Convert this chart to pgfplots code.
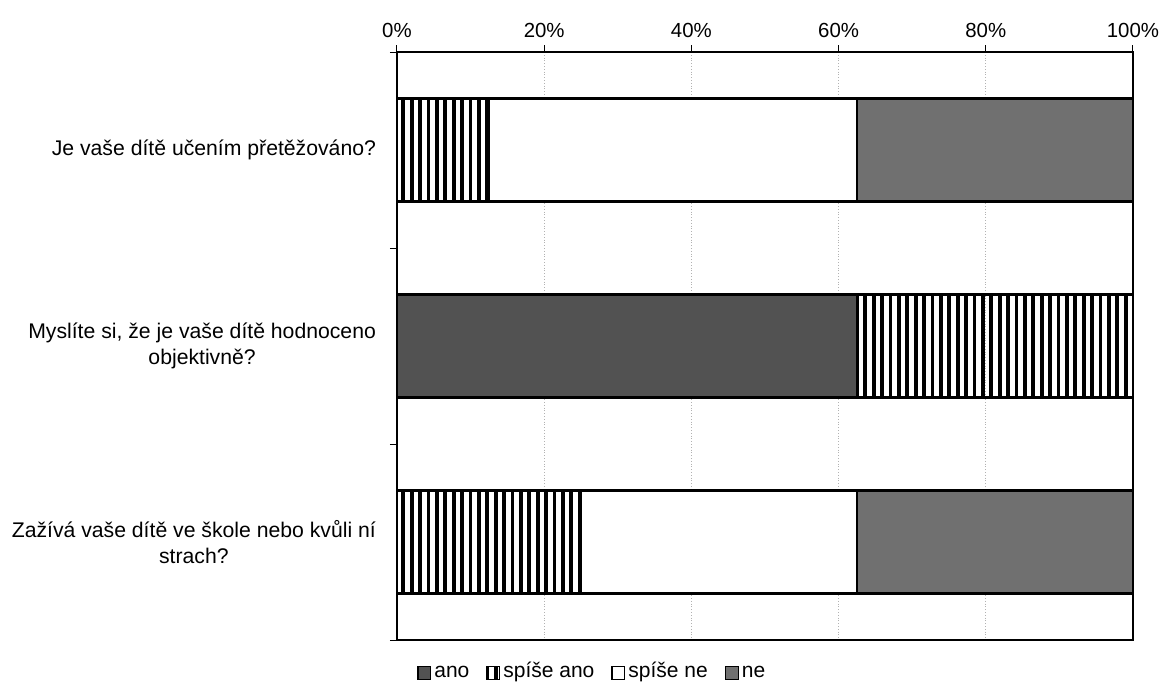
\documentclass[border=0pt]{standalone}
\usepackage{fontspec}
\setmainfont{Liberation Sans}
\usepackage{pgfplots}
\pgfplotsset{compat=1.18}
\usetikzlibrary{patterns.meta}
\definecolor{anoc}{HTML}{525252}
\definecolor{nec}{HTML}{707070}
\begin{document}
\begin{tikzpicture}
\useasboundingbox (-198.5pt,-22.5pt) rectangle (383.5pt,320pt);
\begin{axis}[
  at={(0pt,0pt)}, anchor=south west,
  scale only axis, width=368pt, height=294pt,
  xbar stacked, bar width=51.5pt,
  xmin=0, xmax=100,
  ymin=-0.5, ymax=2.5, y dir=reverse,
  xtick={0,20,40,60,80,100},
  xticklabel={\pgfmathprintnumber{\tick}\%},
  xtick pos=right, xticklabel pos=right,
  xmajorgrids, grid style={densely dotted, gray!60, line width=0.4pt},
  ytick={-0.5,0.5,1.5,2.5}, yticklabels={},
  ytick pos=left,
  extra y ticks={0,1,2},
  extra y tick labels={Je vaše dítě učením přetěžováno?, {Myslíte si, že je vaše dítě hodnoceno\\objektivně?}, {Zažívá vaše dítě ve škole nebo kvůli ní\\strach?}},
  extra y tick style={major tick length=0pt, yticklabel style={align=center, xshift=-7pt, font=\fontsize{10.6}{13}\selectfont}},
  tick align=outside, major tick length=3.5pt,
  tick style={black, line width=0.5pt},
  axis line style={line width=0.6pt},
  /pgf/number format/assume math mode=true,
  font=\fontsize{10}{12}\selectfont,
  ticklabel style={font=\fontsize{10.2}{12}\selectfont},
  legend columns=4,
  legend style={draw=none, at={(0.266,-0.056)}, anchor=center, font=\fontsize{10.5}{12}\selectfont,
    inner sep=0pt, nodes={text height=0.72em, text depth=0.22em, inner xsep=1.5pt},
    /tikz/every odd column/.append style={column sep=0pt},
    /tikz/every even column/.append style={column sep=7pt}},
  legend image code/.code={\draw[#1, line width=0.6pt] (0pt,-3.1pt) rectangle (6.4pt,3.1pt);},
  every axis plot/.append style={draw=black, line width=1.2pt},
]
\addplot[fill=anoc] coordinates {(0,0) (62.5,1) (0,2)};
\addplot[pattern={Lines[angle=90, distance=4.2pt, line width=1.9pt]}, pattern color=black] coordinates {(12.5,0) (37.5,1) (25,2)};
\addplot[fill=white] coordinates {(50,0) (0,1) (37.5,2)};
\addplot[fill=nec] coordinates {(37.5,0) (0,1) (37.5,2)};
\legend{ano, spíše ano, spíše ne, ne}
\end{axis}
\end{tikzpicture}
\end{document}
